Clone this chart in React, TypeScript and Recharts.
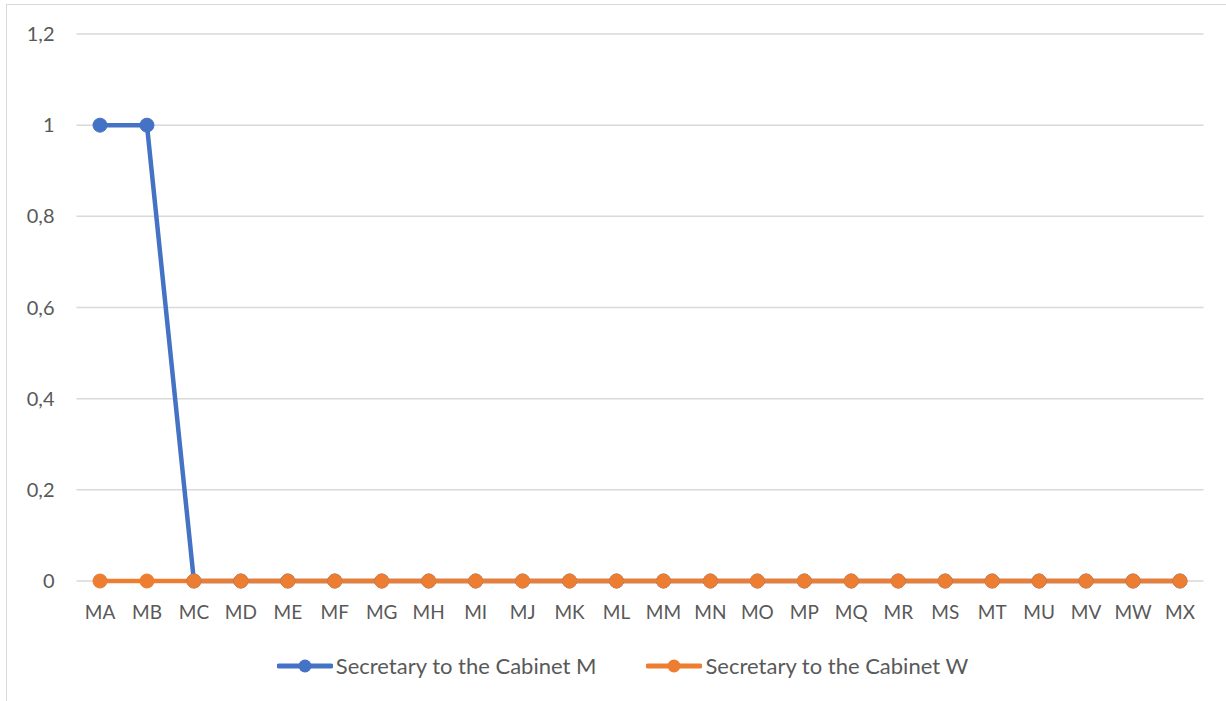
import React from 'react';
import { LineChart, Line, XAxis, YAxis, CartesianGrid, Legend } from 'recharts';

const categories = ['MA', 'MB', 'MC', 'MD', 'ME', 'MF', 'MG', 'MH', 'MI', 'MJ', 'MK', 'ML', 'MM', 'MN', 'MO', 'MP', 'MQ', 'MR', 'MS', 'MT', 'MU', 'MV', 'MW', 'MX'];
const secretaryM = [1, 1, 0, 0, 0, 0, 0, 0, 0, 0, 0, 0, 0, 0, 0, 0, 0, 0, 0, 0, 0, 0, 0, 0];
const secretaryW = [0, 0, 0, 0, 0, 0, 0, 0, 0, 0, 0, 0, 0, 0, 0, 0, 0, 0, 0, 0, 0, 0, 0, 0];
const yTicks = [0, 0.2, 0.4, 0.6, 0.8, 1, 1.2];

const BLUE = '#4472C4';
const ORANGE = '#ED7D31';
const TEXT = '#595959';
const GRID = '#d9d9d9';
const FONT = 'Lato, "Open Sans", sans-serif';

const data = categories.map((c, i) => ({ name: c, m: secretaryM[i], w: secretaryW[i] }));

const legendItems = [
  { label: 'Secretary to the Cabinet M', color: BLUE },
  { label: 'Secretary to the Cabinet W', color: ORANGE },
];

// legend drawn like excel: thick line with a dot in the middle
const ExcelLegend = () => (
  <div style={{ display: 'flex', justifyContent: 'center', gap: 50, fontFamily: FONT, fontSize: 22, color: TEXT, paddingLeft: 19 }}>
    {legendItems.map((it) => (
      <div key={it.label} style={{ display: 'flex', alignItems: 'center' }}>
        <svg width={56} height={18} style={{ marginRight: 3 }}>
          <line x1={2} y1={9} x2={54} y2={9} stroke={it.color} strokeWidth={5} strokeLinecap="round" />
          <circle cx={28} cy={9} r={6.5} fill={it.color} />
        </svg>
        <span>{it.label}</span>
      </div>
    ))}
  </div>
);

export default function App() {
  return (
    <div style={{ position: 'absolute', left: 0, top: 0, width: 1226, height: 701, overflow: 'hidden', background: '#fff' }}>
      <div style={{ position: 'absolute', left: 6, top: 4, width: 1240, height: 720, border: '1.5px solid #d9d9d9' }} />
      <div style={{ position: 'absolute', left: 0, top: 0 }}>
        <LineChart width={1226} height={701} data={data} margin={{ top: 34, right: 22.5, left: 0, bottom: 30 }}>
          <CartesianGrid vertical={false} stroke={GRID} strokeWidth={1.5} />
          <XAxis
            dataKey="name"
            tickLine={false}
            axisLine={false}
            padding={{ left: 23.5, right: 23.5 }}
            tick={{ fill: TEXT, fontSize: 19, fontFamily: FONT }}
            tickMargin={19}
            height={50}
            interval={0}
          />
          <YAxis
            domain={[0, 1.2]}
            ticks={yTicks}
            width={76.5}
            tickLine={false}
            axisLine={false}
            tick={{ fill: TEXT, fontSize: 20, fontFamily: FONT }}
            tickMargin={16}
            tickFormatter={(v: number) => String(v).replace('.', ',')}
          />
          <Legend
            verticalAlign="bottom"
            height={40}
            content={<ExcelLegend />}
            wrapperStyle={{ top: 652, bottom: 'auto', left: 0, width: 1226 }}
          />
          <Line
            type="linear"
            dataKey="m"
            name="Secretary to the Cabinet M"
            stroke={BLUE}
            strokeWidth={4.5}
            dot={{ r: 7, fill: BLUE, stroke: BLUE, strokeWidth: 1 }}
            isAnimationActive={false}
          />
          <Line
            type="linear"
            dataKey="w"
            name="Secretary to the Cabinet W"
            stroke={ORANGE}
            strokeWidth={4.5}
            dot={{ r: 7, fill: ORANGE, stroke: ORANGE, strokeWidth: 1 }}
            isAnimationActive={false}
          />
        </LineChart>
      </div>
    </div>
  );
}
